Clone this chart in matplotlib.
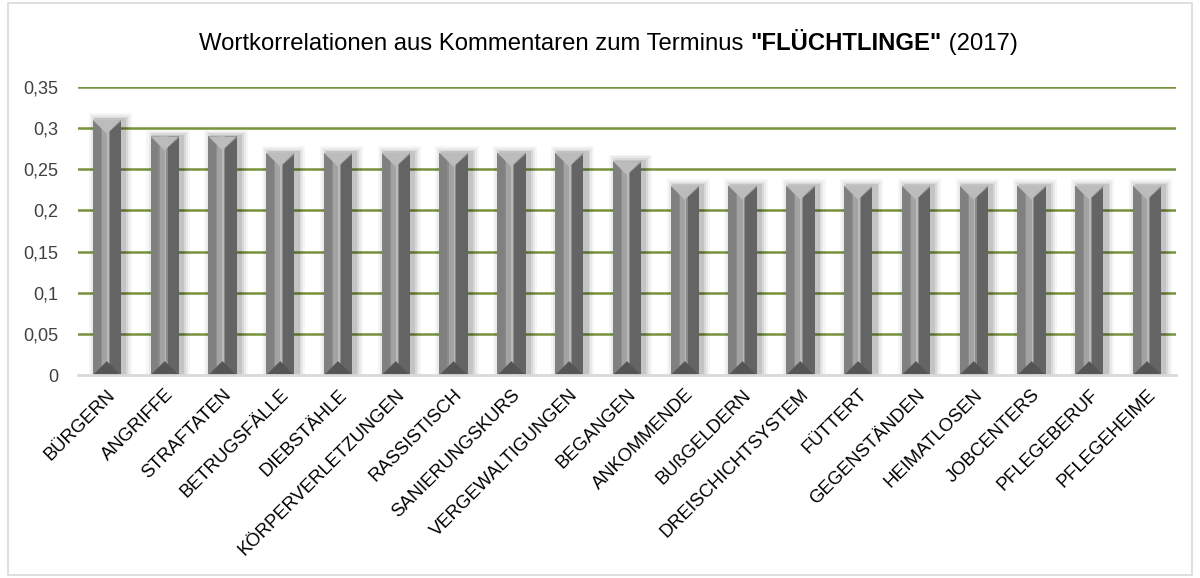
import matplotlib.pyplot as plt
import numpy as np
from matplotlib.patches import Polygon, Rectangle
from matplotlib.ticker import FuncFormatter

plt.rcParams.update({
    'font.family': ['Liberation Sans', 'DejaVu Sans'],
    'font.size': 12,
})

words = ['BÜRGERN', 'ANGRIFFE', 'STRAFTATEN', 'BETRUGSFÄLLE', 'DIEBSTÄHLE',
         'KÖRPERVERLETZUNGEN', 'RASSISTISCH', 'SANIERUNGSKURS', 'VERGEWALTIGUNGEN',
         'BEGANGEN', 'ANKOMMENDE', 'BUßGELDERN', 'DREISCHICHTSYSTEM', 'FÜTTERT',
         'GEGENSTÄNDEN', 'HEIMATLOSEN', 'JOBCENTERS', 'PFLEGEBERUF', 'PFLEGEHEIME']
correlations = [0.31, 0.29, 0.29, 0.27, 0.27, 0.27, 0.27, 0.27, 0.27,
                0.26, 0.23, 0.23, 0.23, 0.23, 0.23, 0.23, 0.23, 0.23, 0.23]
yticks = [0, 0.05, 0.1, 0.15, 0.2, 0.25, 0.3, 0.35]

fig = plt.figure(figsize=(12, 5.78), dpi=100)
ax = fig.add_axes([0.065, 0.351, 0.915, 0.4985])

# light frame around the whole chart
fig.patches.append(Rectangle((0.007, 0.005), 0.986, 0.99, transform=fig.transFigure,
                             fill=False, edgecolor='#d9d9d9', linewidth=1.2))

x = np.arange(len(words))
h = np.array(correlations)
w = 0.49
cap = 0.017  # depth of the bevel at top/bottom, in data units

# soft shadow behind the bars (up and to the right)
for grow, a in [(0.26, 0.035), (0.19, 0.05), (0.12, 0.07), (0.06, 0.09)]:
    ax.bar(x + 0.06, h + grow * 0.03, width=w + grow, color='black', alpha=a,
           linewidth=0, zorder=2)

# bar body: left lighter, right darker, centre highlight
ax.bar(x, h, width=w, color='#8c8c8c', linewidth=0, zorder=3)
ax.bar(x - w * 0.36, h, width=w * 0.28, color='#808080', linewidth=0, zorder=3)
ax.bar(x - w * 0.08, h, width=w * 0.2, color='#a3a3a3', linewidth=0, zorder=3)
ax.bar(x + w * 0.03, h, width=w * 0.06, color='#bababa', linewidth=0, zorder=3)
ax.bar(x + w * 0.3, h, width=w * 0.4, color='#646464', linewidth=0, zorder=3)

for xi, hi in zip(x, h):
    # top bevel (light V)
    ax.add_patch(Polygon([(xi - w / 2, hi), (xi + w / 2, hi), (xi, hi - cap)],
                         closed=True, facecolor='#bcbcbc', edgecolor='none', zorder=4))
    ax.add_patch(Polygon([(xi, hi - cap), (xi + w / 2, hi), (xi + w / 2, hi - cap * 0.1)],
                         closed=True, facecolor='#a0a0a0', edgecolor='none', zorder=4))
    # bottom bevel (dark)
    ax.add_patch(Polygon([(xi - w / 2, 0), (xi + w / 2, 0), (xi, cap)],
                         closed=True, facecolor='#555555', edgecolor='none', zorder=4))

ax.set_xlim(-0.5, len(words) - 0.5)
ax.set_ylim(0, 0.35)
ax.set_yticks(yticks)
ax.yaxis.set_major_formatter(FuncFormatter(lambda v, p: ('%g' % round(v, 2)).replace('.', ',')))
ax.grid(axis='y', color='#77933c', linewidth=1.8, zorder=0)
ax.set_axisbelow(True)
for s in ['left', 'right', 'top']:
    ax.spines[s].set_visible(False)
ax.spines['bottom'].set_color('#d9d9d9')
ax.spines['bottom'].set_linewidth(2)
ax.spines['bottom'].set_zorder(5)
ax.tick_params(axis='y', length=0, pad=14, labelsize=13, labelcolor='#404040')
ax.tick_params(axis='x', length=0, pad=8)
ax.set_xticks(x)
ax.set_xticklabels(words, rotation=45, ha='right', va='top', rotation_mode='anchor',
                   fontsize=13.3)
ax.yaxis.get_gridlines()[0].set_visible(False)

# title with bold term in the middle
parts = [('Wortkorrelationen aus Kommentaren zum Terminus ', 'normal'),
         ('"FLÜCHTLINGE"', 'bold'), (' (2017)', 'normal')]
fig.canvas.draw()
r = fig.canvas.get_renderer()
texts = [fig.text(0, 0.9135, s, fontsize=17.2, fontweight=fw, va='baseline') for s, fw in parts]
widths = [t.get_window_extent(r).width / fig.bbox.width for t in texts]
x0 = 0.507 - sum(widths) / 2
for t, wd in zip(texts, widths):
    t.set_x(x0)
    x0 += wd

fig.savefig('out.png', dpi=100)
